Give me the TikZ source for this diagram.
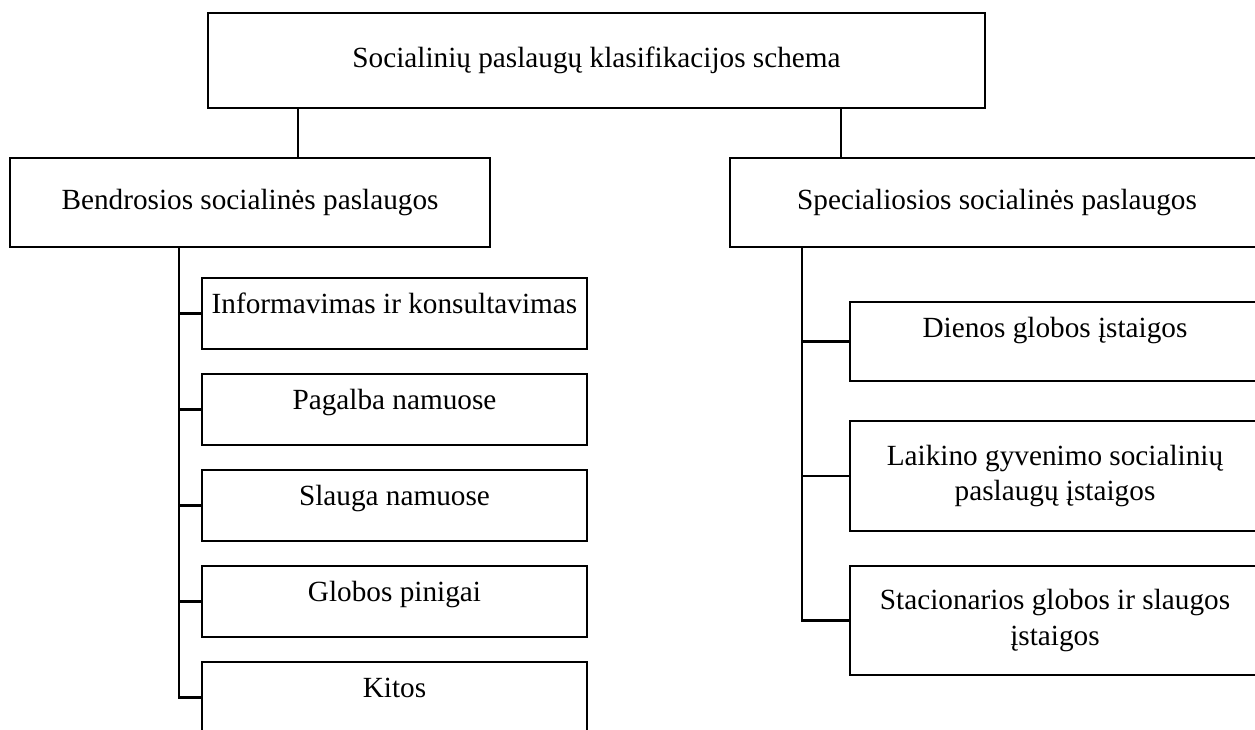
\documentclass[tikz,border=0pt]{standalone}
\usepackage{fontspec}
\setmainfont{Liberation Serif}
\usetikzlibrary{positioning}
\tikzset{
  every node/.append style={align=center, font=\fontsize{13}{15.6}\selectfont},
  headbox/.style={draw, inner sep=0pt, minimum height=39.6pt},
  leafbox/.style={draw, inner sep=0pt, minimum width=171.1pt,
    minimum height=31.6pt, text height=9.5pt, text depth=9.5pt},
  placebox/.style={draw, inner sep=0pt, minimum width=182.2pt}
}

\begin{document}
\begin{tikzpicture}[x=0.4444pt, y=-0.4444pt, line width=1.1pt]

  % Page frame (the right boxes run off the page)
  \useasboundingbox (0,0) rectangle (1255,729);
  \clip (0,0) rectangle (1255,729);

  % Top box
  \node[headbox, minimum width=345.3pt, minimum height=42.2pt]
    (schema) at (596.5,60.5) {Socialinių paslaugų klasifikacijos schema};

  % Two groups
  \node[headbox, minimum width=213.3pt] (bendr) at (250,202.5)
    {Bendrosios socialinės paslaugos};
  \node[headbox, minimum width=237.3pt] (spec) at (997,202.5)
    {Specialiosios socialinės paslaugos};

  % Links from the top box
  \coordinate (bendrx) at (298,0);
  \coordinate (specx) at (841,0);
  \draw (schema.south -| bendrx) -- (bendr.north -| bendrx);
  \draw (schema.south -| specx) -- (spec.north -| specx);

  % General services
  \node[leafbox] (inform) at (394.5,313.5) {Informavimas ir konsultavimas};
  \node[leafbox] (pagalba) at (394.5,409.5) {Pagalba namuose};
  \node[leafbox] (slauga) at (394.5,505.5) {Slauga namuose};
  \node[leafbox] (pinigai) at (394.5,601.5) {Globos pinigai};
  \node[leafbox] (kitos) at (394.5,697.5) {Kitos};

  \coordinate (bendrtrunk) at (179,0);
  \draw (bendr.south -| bendrtrunk) |- (kitos.west);
  \foreach \n in {inform,pagalba,slauga,pinigai}
    \draw (bendrtrunk |- \n.west) -- (\n.west);

  % Special services
  \node[placebox, minimum height=35.1pt, text height=9.5pt, text depth=13pt]
    (dienos) at (1055,341.5) {Dienos globos įstaigos};
  \node[placebox, minimum height=48.9pt] (laikino) at (1055,476)
    {Laikino gyvenimo socialinių\\ paslaugų įstaigos};
  \node[placebox, minimum height=48.4pt] (stac) at (1055,620.5)
    {Stacionarios globos ir slaugos\\ įstaigos};

  \coordinate (spectrunk) at (802,0);
  \draw (spec.south -| spectrunk) |- (stac.west);
  \foreach \n in {dienos,laikino}
    \draw (spectrunk |- \n.west) -- (\n.west);

\end{tikzpicture}
\end{document}
